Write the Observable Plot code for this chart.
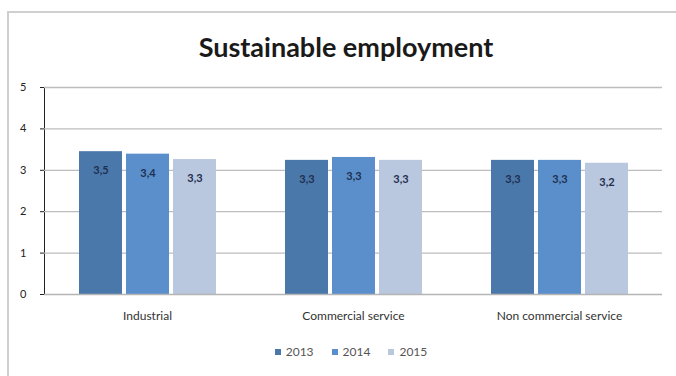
<!DOCTYPE html>
<html>
<head>
<meta charset="utf-8">
<script src="https://cdn.jsdelivr.net/npm/d3@7"></script>
<script src="https://cdn.jsdelivr.net/npm/@observablehq/plot@0.6"></script>
<style>
  html, body { margin: 0; padding: 0; background: #fff; }
  #wrap { position: relative; width: 676px; height: 376px; overflow: hidden; background: #fff; }
  #frame { position: absolute; left: 7px; top: 11px; width: 700px; height: 400px;
           border-left: 2px solid #cfcfcf; border-top: 2px solid #cfcfcf; box-sizing: border-box; }
  #title { position: absolute; left: 0; width: 692px; top: 30px; text-align: center;
           font-family: Lato, "Open Sans", sans-serif; font-weight: bold; font-size: 27px; color: #1a1a1a; }
  #plot { position: absolute; left: 0; top: 0; }
  #legend { position: absolute; top: 344px; left: 0; width: 702px; text-align: center;
            font-family: Lato, "Open Sans", sans-serif; font-size: 12px; color: #555; }
  #legend span.item { margin: 0 9px; }
  #legend span.sw { display: inline-block; width: 6px; height: 6px; margin-right: 5px; vertical-align: 1px; }
</style>
</head>
<body>
<div id="wrap">
  <div id="frame"></div>
  <div id="plot"></div>
  <div id="title">Sustainable employment</div>
  <div id="legend"></div>
</div>
<script>
const categories = ["Industrial", "Commercial service", "Non commercial service"];
const years = ["2013", "2014", "2015"];
const values2013 = [3.45, 3.24, 3.24];
const values2014 = [3.39, 3.31, 3.24];
const values2015 = [3.26, 3.24, 3.17];
const labels2013 = ["3,5", "3,3", "3,3"];
const labels2014 = ["3,4", "3,3", "3,3"];
const labels2015 = ["3,3", "3,3", "3,2"];
const colors = ["#4a78ab", "#5a8fcb", "#b9c7df"];
const yTicks = [0, 1, 2, 3, 4, 5];

const seriesValues = [values2013, values2014, values2015];
const seriesLabels = [labels2013, labels2014, labels2015];
const data = [];
categories.forEach((c, i) => {
  years.forEach((y, j) => {
    data.push({category: c, year: y, value: seriesValues[j][i], label: seriesLabels[j][i]});
  });
});

const font = "Lato, 'Open Sans', sans-serif";

const chart = Plot.plot({
  width: 676,
  height: 376,
  marginTop: 87,
  marginBottom: 82,
  marginLeft: 41,
  marginRight: 11,
  style: {fontFamily: font, fontSize: "11px", color: "#222", background: "transparent"},
  fx: {domain: categories, paddingInner: 0, paddingOuter: 0.01, label: null, axis: "bottom",
       tickSize: 0, tickPadding: 17},
  x: {domain: years, paddingInner: 0.087, paddingOuter: 0.72, axis: null},
  y: {domain: [0, 5], ticks: yTicks, tickSize: 4, tickPadding: 14, label: null, line: true,
      tickFormat: d3.format("d")},
  color: {domain: years, range: colors},
  marks: [
    Plot.ruleY(yTicks.filter(d => d > 0), {stroke: "#bdbdbd", strokeWidth: 1.3}),
    Plot.barY(data, {fx: "category", x: "year", y: "value", fill: "year"}),
    Plot.ruleY([0], {stroke: "#b5b5b5", strokeWidth: 1.5}),
    Plot.text(data, {fx: "category", x: "year", y: "value", text: "label", dy: 19,
                     fill: "#1f2f4f", fontWeight: "bold", fontSize: 11})
  ]
});
document.getElementById("plot").appendChild(chart);
d3.select(chart).selectAll("g[aria-label='fx-axis tick label'] text, g[aria-label='fx-axis'] text")
  .style("font-size", "12px").attr("fill", "#333");

// legend
const lg = document.getElementById("legend");
years.forEach((y, i) => {
  const it = document.createElement("span");
  it.className = "item";
  const sw = document.createElement("span");
  sw.className = "sw";
  sw.style.background = colors[i];
  it.appendChild(sw);
  it.appendChild(document.createTextNode(y));
  lg.appendChild(it);
});
</script>
</body>
</html>
